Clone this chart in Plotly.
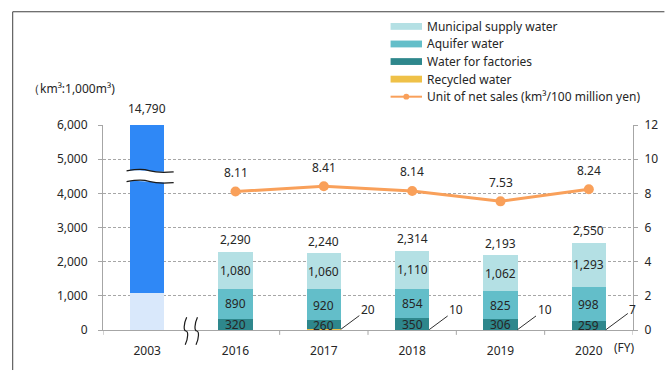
import plotly.graph_objects as go

# ---- data -------------------------------------------------------------
years = ["2003", "2016", "2017", "2018", "2019", "2020"]
years_recent = ["2016", "2017", "2018", "2019", "2020"]
municipal = [1080, 1060, 1110, 1062, 1293]
aquifer = [890, 920, 854, 825, 998]
factories = [320, 260, 350, 306, 259]
recycled_years = ["2017", "2018", "2019", "2020"]
recycled = [20, 10, 10, 7]
intensity = [8.11, 8.41, 8.14, 7.53, 8.24]
total_2003 = 14790
lower_2003 = 1080

totals = [m + a + f for m, a, f in zip(municipal, aquifer, factories)]

# ---- styling ----------------------------------------------------------
FONT = "Noto Sans"
TXT = "#262626"
C_MUNI = "#b4e0e4"
C_AQUI = "#63bec9"
C_FACT = "#2e878c"
C_RECY = "#efc148"
C_LINE = "#f9a05a"
C_2003 = "#2f88f6"
C_2003_LOW = "#d9e8fb"
AXIS = "#a6a6a6"

W, H = 670, 371
M_L, M_R, M_T, M_B = 103, 27, 125, 36
PW, PH = W - M_L - M_R, H - M_T - M_B
Y_MAX = 6000
N = len(years)


def px_x(p):
    """pixel column -> paper x"""
    return (p - M_L) / PW


def px_y(p):
    """pixel row -> paper y"""
    return (H - M_B - p) / PH


def cat_x(i):
    """category index -> paper x"""
    return (i + 0.5) / N


def idx(year):
    """category position on the x axis"""
    return years.index(year)


fig = go.Figure()

# 2003 single bar (broken axis)
fig.add_bar(x=["2003"], y=[lower_2003], marker_color=C_2003_LOW,
            marker_line_width=0, showlegend=False, hoverinfo="skip")
fig.add_bar(x=["2003"], y=[total_2003 - lower_2003], marker_color=C_2003,
            marker_line_width=0, showlegend=False)

# stacked breakdown, bottom to top
fig.add_bar(x=recycled_years, y=recycled, marker_color=C_RECY,
            marker_line_width=0, name="Recycled water", showlegend=False)
fig.add_bar(x=years_recent, y=factories, marker_color=C_FACT,
            marker_line_width=0, name="Water for factories", showlegend=False)
fig.add_bar(x=years_recent, y=aquifer, marker_color=C_AQUI,
            marker_line_width=0, name="Aquifer water", showlegend=False)
fig.add_bar(x=years_recent, y=municipal, marker_color=C_MUNI,
            marker_line_width=0, name="Municipal supply water", showlegend=False)

fig.add_scatter(x=years_recent, y=intensity, yaxis="y2", mode="lines+markers",
                line=dict(color=C_LINE, width=3),
                marker=dict(color=C_LINE, size=10),
                name="Unit of net sales", showlegend=False)

ann = []
lbl = dict(font=dict(family=FONT, size=12, color=TXT), showarrow=False)

# segment labels, centred in each segment
for yr, f, a, m in zip(years_recent, factories, aquifer, municipal):
    base = 0
    for v in (f, a, m):
        ann.append(dict(x=idx(yr), y=base + v / 2, text=f"{v:,}", **lbl))
        base += v

# totals above bars
for yr, t in zip(years_recent, totals):
    ann.append(dict(x=idx(yr), y=t, text=f"{t:,}", yanchor="middle", yshift=12, **lbl))

# 2003 total above the clipped bar
ann.append(dict(x=idx("2003"), y=1, yref="paper", text=f"{total_2003:,}",
                yanchor="middle", yshift=17, **lbl))

# line labels
for yr, v in zip(years_recent, intensity):
    ann.append(dict(x=idx(yr), y=v, yref="y2", text=f"{v:.2f}",
                    yanchor="middle", yshift=19, **lbl))

# recycled water callouts with leader lines
for yr, v in zip(recycled_years, recycled):
    ann.append(dict(x=idx(yr), y=v, text=f"{v:,}", xshift=17,
                    showarrow=True, arrowhead=0, arrowwidth=1, arrowcolor="#303030",
                    ax=27, ay=-20, standoff=0,
                    font=dict(family=FONT, size=12, color=TXT)))

# axis unit and FY marker
ann.append(dict(x=px_x(25), y=px_y(88), xref="paper", yref="paper",
                xanchor="left", yanchor="middle", text="（km³:1,000m³)", **lbl))
ann.append(dict(x=px_x(634), y=px_y(353), xref="paper", yref="paper",
                xanchor="center", yanchor="middle", text="(FY)", **lbl))

shapes = []

# outer frame (top and left edges)
shapes.append(dict(type="line", xref="paper", yref="paper",
                   x0=px_x(11), x1=px_x(W + 5), y0=px_y(9), y1=px_y(9),
                   line=dict(color="#404040", width=1)))
shapes.append(dict(type="line", xref="paper", yref="paper",
                   x0=px_x(11), x1=px_x(11), y0=px_y(9), y1=px_y(H + 5),
                   line=dict(color="#404040", width=1)))

# x ticks at category boundaries (none at the broken gap)
for b in [-0.5, 1.5, 2.5, 3.5, 4.5, 5.5]:
    shapes.append(dict(type="line", xref="x", yref="paper", x0=b, x1=b,
                       y0=0, y1=-5 / PH, line=dict(color=AXIS, width=1)))

# break in the 2003 bar
bx0, bx1 = cat_x(0) - 21 / PW, cat_x(0) + 27 / PW
yb_hi, yb_lo = px_y(172), px_y(183)
dy = 2 / PH


def wave(x0, x1, y):
    xm = (x0 + x1) / 2
    return (f"M {x0},{y} C {x0 + (xm - x0) * 0.5},{y + dy} {xm - (xm - x0) * 0.3},{y + dy} {xm},{y} "
            f"C {xm + (x1 - xm) * 0.3},{y - dy} {x1 - (x1 - xm) * 0.5},{y - dy} {x1},{y - dy * 0.5}")


band = (f"M {bx0},{yb_hi} C {bx0 + 0.02},{yb_hi + dy} {bx1 - 0.03},{yb_hi - dy} {bx1},{yb_hi - dy * 0.5} "
        f"L {bx1},{yb_lo - dy * 0.5} C {bx1 - 0.03},{yb_lo - dy} {bx0 + 0.02},{yb_lo + dy} {bx0},{yb_lo} Z")
shapes.append(dict(type="path", xref="paper", yref="paper", path=band,
                   fillcolor="white", line=dict(width=0)))
for yy in (yb_hi, yb_lo):
    shapes.append(dict(type="path", xref="paper", yref="paper",
                       path=wave(bx0, bx1, yy), line=dict(color="#1a1a1a", width=1.3)))

# break marks on the category axis between 2003 and 2016
gap_x = 1 / N
for off in (-5.5, 5.5):
    xc = gap_x + off / PW
    yt, ybm = px_y(322), px_y(350)
    ym = (yt + ybm) / 2
    sx = 2.5 / PW
    shapes.append(dict(type="path", xref="paper", yref="paper",
                       path=(f"M {xc + sx * 0.3},{yt} C {xc - sx},{yt - (yt - ym) * 0.5} {xc - sx},{ym} {xc},{ym} "
                             f"C {xc + sx},{ym} {xc + sx},{ybm + (ym - ybm) * 0.5} {xc - sx * 0.3},{ybm}"),
                       line=dict(color="#1a1a1a", width=1.2)))

# legend
leg_items = [("Municipal supply water", C_MUNI, 24),
             ("Aquifer water", C_AQUI, 42),
             ("Water for factories", C_FACT, 60),
             ("Recycled water", C_RECY, 78)]
for text, col, yy in leg_items:
    shapes.append(dict(type="rect", xref="paper", yref="paper",
                       x0=px_x(396), x1=px_x(428), y0=px_y(yy - 3.5), y1=px_y(yy + 3.5),
                       fillcolor=col, line=dict(width=0)))
    ann.append(dict(x=px_x(431), y=px_y(yy), xref="paper", yref="paper",
                    xanchor="left", yanchor="middle", text=text, showarrow=False,
                    font=dict(family=FONT, size=12, color=TXT)))
shapes.append(dict(type="line", xref="paper", yref="paper",
                   x0=px_x(396), x1=px_x(428), y0=px_y(96), y1=px_y(96),
                   line=dict(color=C_LINE, width=2)))
shapes.append(dict(type="circle", xref="paper", yref="paper",
                   x0=px_x(409), x1=px_x(415), y0=px_y(93), y1=px_y(99),
                   fillcolor=C_LINE, line=dict(width=0)))
ann.append(dict(x=px_x(431), y=px_y(96), xref="paper", yref="paper",
                xanchor="left", yanchor="middle",
                text="Unit of net sales (km³/100 million yen)", showarrow=False,
                font=dict(family=FONT, size=12, color=TXT)))

fig.update_layout(
    width=W, height=H,
    margin=dict(l=M_L, r=M_R, t=M_T, b=M_B, pad=0),
    paper_bgcolor="white", plot_bgcolor="white",
    barmode="stack", bargap=0.61,
    font=dict(family=FONT, size=12, color=TXT),
    showlegend=False,
    xaxis=dict(type="category", categoryorder="array", categoryarray=years,
               range=[-0.5, N - 0.5], showline=True, linecolor=AXIS, linewidth=1,
               ticks="", showgrid=False, ticklabelstandoff=10,
               tickfont=dict(family=FONT, size=12, color=TXT)),
    yaxis=dict(range=[0, Y_MAX], dtick=1000, tickformat=",", showgrid=True,
               gridcolor=AXIS, griddash="3px,2px", gridwidth=1, zeroline=False,
               showline=True, linecolor=AXIS, ticks="outside", ticklen=4,
               tickcolor=AXIS, ticklabelstandoff=8,
               tickfont=dict(family=FONT, size=12, color=TXT)),
    yaxis2=dict(range=[0, 12], dtick=2, overlaying="y", side="right",
                showgrid=False, zeroline=False, showline=True, linecolor=AXIS,
                ticks="outside", ticklen=4, tickcolor=AXIS, ticklabelstandoff=4,
                tickfont=dict(family=FONT, size=12, color=TXT)),
    annotations=ann,
    shapes=shapes,
)

fig.write_html("out.html")
